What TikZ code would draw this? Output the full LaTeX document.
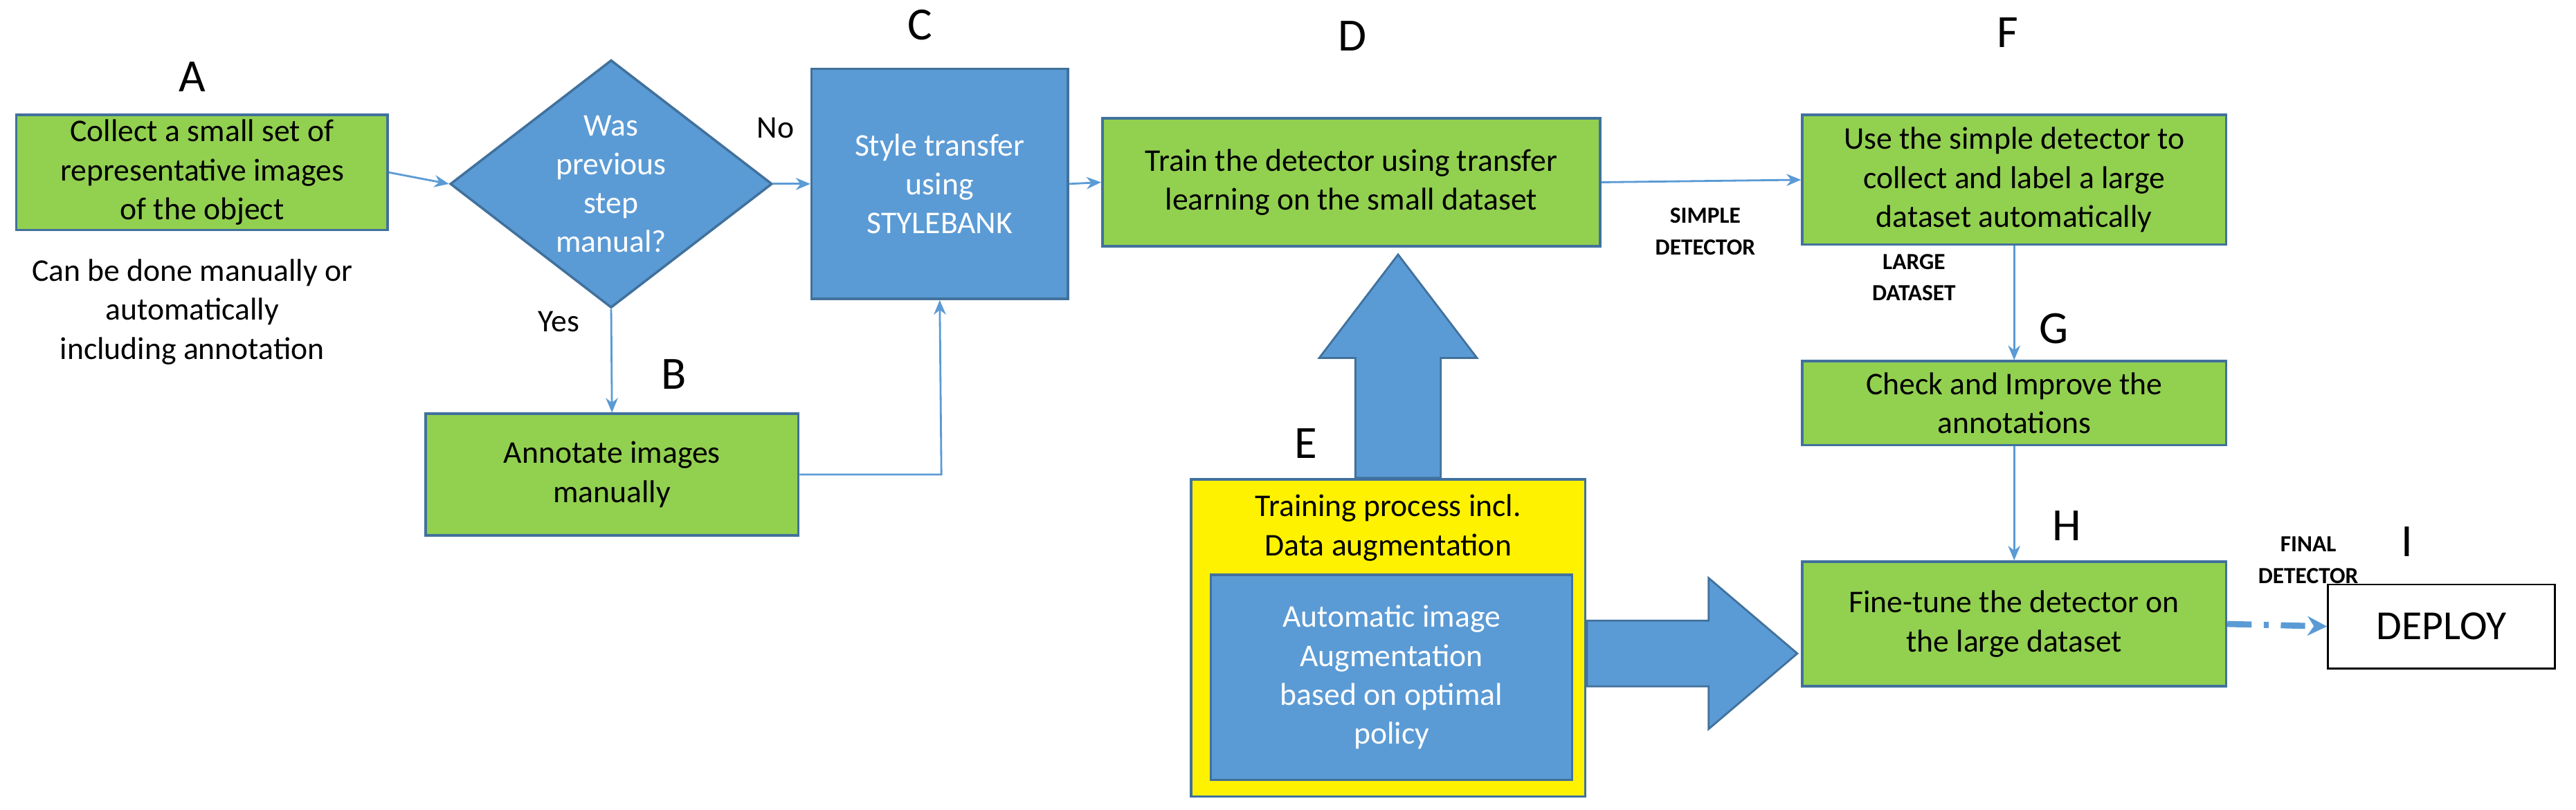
\documentclass[tikz,border=0pt]{standalone}
\usepackage{fontspec}
\setmainfont{Carlito}
\usetikzlibrary{shapes.geometric,shapes.arrows,arrows.meta}
\definecolor{gr}{HTML}{92D050}
\definecolor{bl}{HTML}{5B9BD5}
\definecolor{bd}{HTML}{41719C}
\begin{document}
\begin{tikzpicture}[x=0.02374cm,y=-0.02374cm,
 box/.style={draw=bd,line width=1pt,align=center,font=\fontsize{13}{16}\selectfont,inner sep=0pt},
 g/.style={box,fill=gr},
 b/.style={box,fill=bl,text=white},
 lab/.style={font=\fontsize{19}{22}\selectfont},
 sm/.style={font=\fontsize{9.5}{13}\selectfont\bfseries,align=center},
 tx/.style={font=\fontsize{13}{16}\selectfont,align=center},
 con/.style={draw=bl,line width=0.8pt,-{Stealth[length=6pt,width=5pt]}}]
\useasboundingbox (0,0) rectangle (1568,493.3);
\node[g,minimum width=226\pgflinewidth/\pgflinewidth*0.02374cm,minimum height=70*0.02374cm] (A) at (123,105) {Collect a small set of\\representative images\\of the object};
\node[lab] at (117,47) {A};
\node[tx] at (117,190) {Can be done manually or\\automatically\\including annotation};
\node[diamond,draw=bd,fill=bl,text=white,line width=1pt,minimum width=196*0.02374cm,minimum height=140*0.02374cm,inner sep=0pt,align=center,font=\fontsize{13}{16}\selectfont] (Q) at (372,112) {Was\\previous\\step\\manual?};
\node[tx] at (472,78) {No};
\node[tx] at (340,196) {Yes};
\node[b,minimum width=156*0.02374cm,minimum height=140*0.02374cm] (C) at (572,112) {Style transfer\\using\\STYLEBANK};
\node[lab] at (560,15) {C};
\node[g,minimum width=227*0.02374cm,minimum height=74*0.02374cm] (B) at (372.5,289) {Annotate images\\manually};
\node[lab] at (410,228) {B};
\node[g,minimum width=303*0.02374cm,minimum height=78*0.02374cm] (D) at (822.5,111) {Train the detector using transfer\\learning on the small dataset};
\node[lab] at (823,22) {D};
\node[g,minimum width=258*0.02374cm,minimum height=79*0.02374cm] (F) at (1226,109.5) {Use the simple detector to\\collect and label a large\\dataset automatically};
\node[lab] at (1222,20) {F};
\node[g,minimum width=258*0.02374cm,minimum height=51*0.02374cm] (G) at (1226,245.5) {Check and Improve the\\annotations};
\node[lab] at (1250,200) {G};
\node[g,minimum width=258*0.02374cm,minimum height=76*0.02374cm] (H) at (1226,380) {Fine-tune the detector on\\the large dataset};
\node[lab] at (1258,320) {H};
\node[draw=black,line width=0.8pt,minimum width=138*0.02374cm,minimum height=51*0.02374cm,inner sep=0pt,font=\fontsize{17}{20}\selectfont] (I) at (1486,381.5) {DEPLOY};
\node[lab] at (1465,330) {I};
\node[sm] at (1038,141) {SIMPLE\\DETECTOR};
\node[sm] at (1165,169) {LARGE\\DATASET};
\node[sm] at (1405,341) {FINAL\\DETECTOR};
\node[draw=bd,fill=yellow,line width=1pt,minimum width=240*0.02374cm,minimum height=193*0.02374cm,inner sep=0pt] (E) at (845,388.5) {};
\node[tx,anchor=north] at (845,296) {Training process incl.\\Data augmentation};
\node[b,minimum width=220*0.02374cm,minimum height=125*0.02374cm] (E2) at (847,412.5) {Automatic image\\Augmentation\\based on optimal\\policy};
\node[lab] at (795,270) {E};
% big arrows
\draw[draw=bd,fill=bl,line width=0.8pt] (825,291) -- (825,218) -- (803,218) -- (851,155) -- (899,218) -- (877,218) -- (877,291) -- cycle;
\draw[draw=bd,fill=bl,line width=0.8pt] (966,378) -- (1040,378) -- (1040,352) -- (1094,398) -- (1040,444) -- (1040,418) -- (966,418) -- cycle;
% connectors
\draw[con] (A.east) -- (Q.west);
\draw[con] (Q.east) -- (C.west);
\draw[con] (Q.south) -- (B.north);
\draw[con] (B.east) -- (573,289) -- (C.south);
\draw[con] (C.east) -- (D.west);
\draw[con] (D.east) -- (F.west);
\draw[con] (F.south) -- (G.north);
\draw[con] (G.south) -- (H.north);
\draw[draw=bl,line width=2.5pt,dash pattern=on 10pt off 5pt on 2pt off 5pt,-{Stealth[length=8pt,width=8pt]}] (H.east) -- (I.west);
\end{tikzpicture}
\end{document}
